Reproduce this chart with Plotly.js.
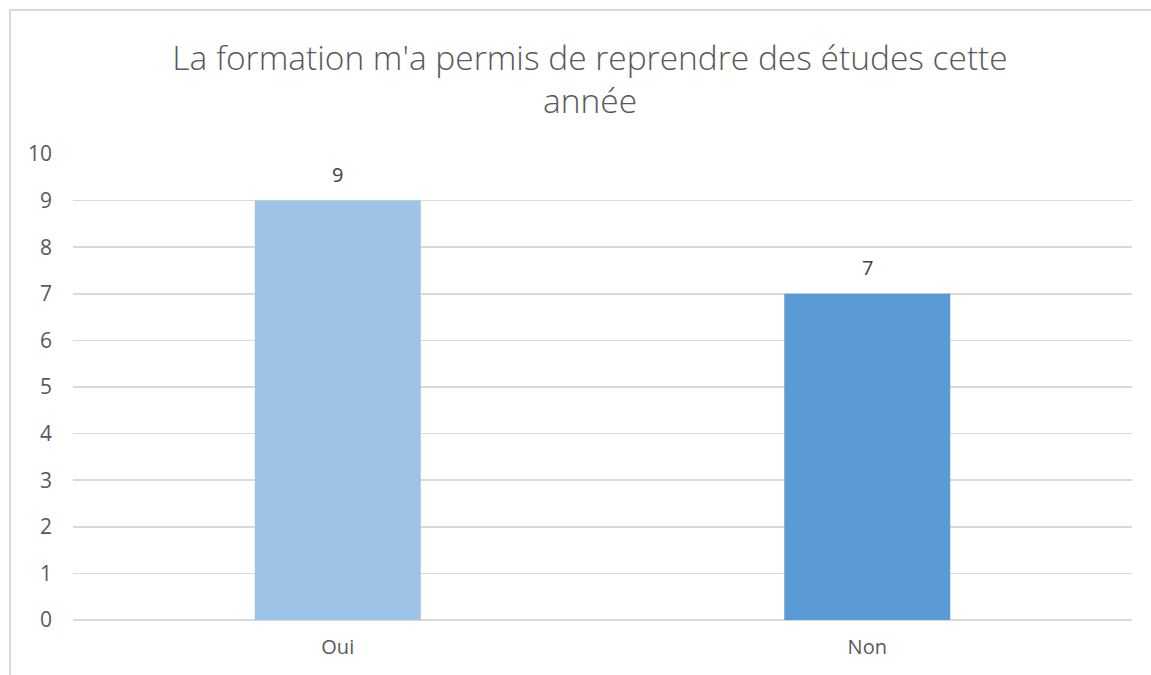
<!DOCTYPE html>
<html><head><meta charset="utf-8">
<script src="https://cdn.plot.ly/plotly-3.0.1.min.js"></script>
<style>
html,body{margin:0;padding:0;background:#fff;overflow:hidden;}
#frame{position:absolute;left:9px;top:9px;width:1300px;height:800px;border-left:2px solid #D9D9D9;border-top:2px solid #D9D9D9;}
#chart{position:absolute;left:0;top:0;width:1151px;height:675px;}
</style></head>
<body>
<div id="frame"></div>
<div id="chart"></div>
<script>
const categories = ["Oui", "Non"];
const values = [9, 7];
const barColors = ["#9DC3E6", "#5B9BD5"];
const titleText = "La formation m'a permis de reprendre des études cette<br>année";
const yTicks = [0,1,2,3,4,5,6,7,8,9,10];

const font = "'Open Sans', sans-serif";
const trace = {
  type: "bar", x: categories, y: values,
  marker: {color: barColors},
  width: 0.3135, hoverinfo: "none"
};
const annotations = categories.map((c, i) => ({
  x: c, y: values[i], text: String(values[i]), showarrow: false,
  yanchor: "bottom", yshift: 11, font: {family: font, size: 20, color: "#404040"}
}));
const layout = {
  width: 1151, height: 675,
  paper_bgcolor: "rgba(0,0,0,0)", plot_bgcolor: "rgba(0,0,0,0)",
  margin: {l: 73, r: 19, t: 154, b: 55},
  showlegend: false,
  title: {text: titleText, x: 0.5126, xref: "container", xanchor: "center",
          y: 0.897, yref: "container", yanchor: "top",
          font: {family: font, size: 33.5, color: "#595959", weight: 300}},
  xaxis: {showgrid: false, showline: false, zeroline: false, ticks: "",
          tickfont: {family: font, size: 20, color: "#595959"}, ticklabelstandoff: 13},
  yaxis: {range: [0, 10], tickvals: yTicks, showgrid: true, gridcolor: "#D9D9D9", gridwidth: 1.5,
          zeroline: true, zerolinecolor: "#D9D9D9", zerolinewidth: 1.5, showline: false, ticks: "",
          tickfont: {family: font, size: 21, color: "#595959"}, ticklabelstandoff: 20},
  annotations: annotations
};
Plotly.newPlot("chart", [trace], layout, {displayModeBar: false, staticPlot: true});
</script>
</body></html>
